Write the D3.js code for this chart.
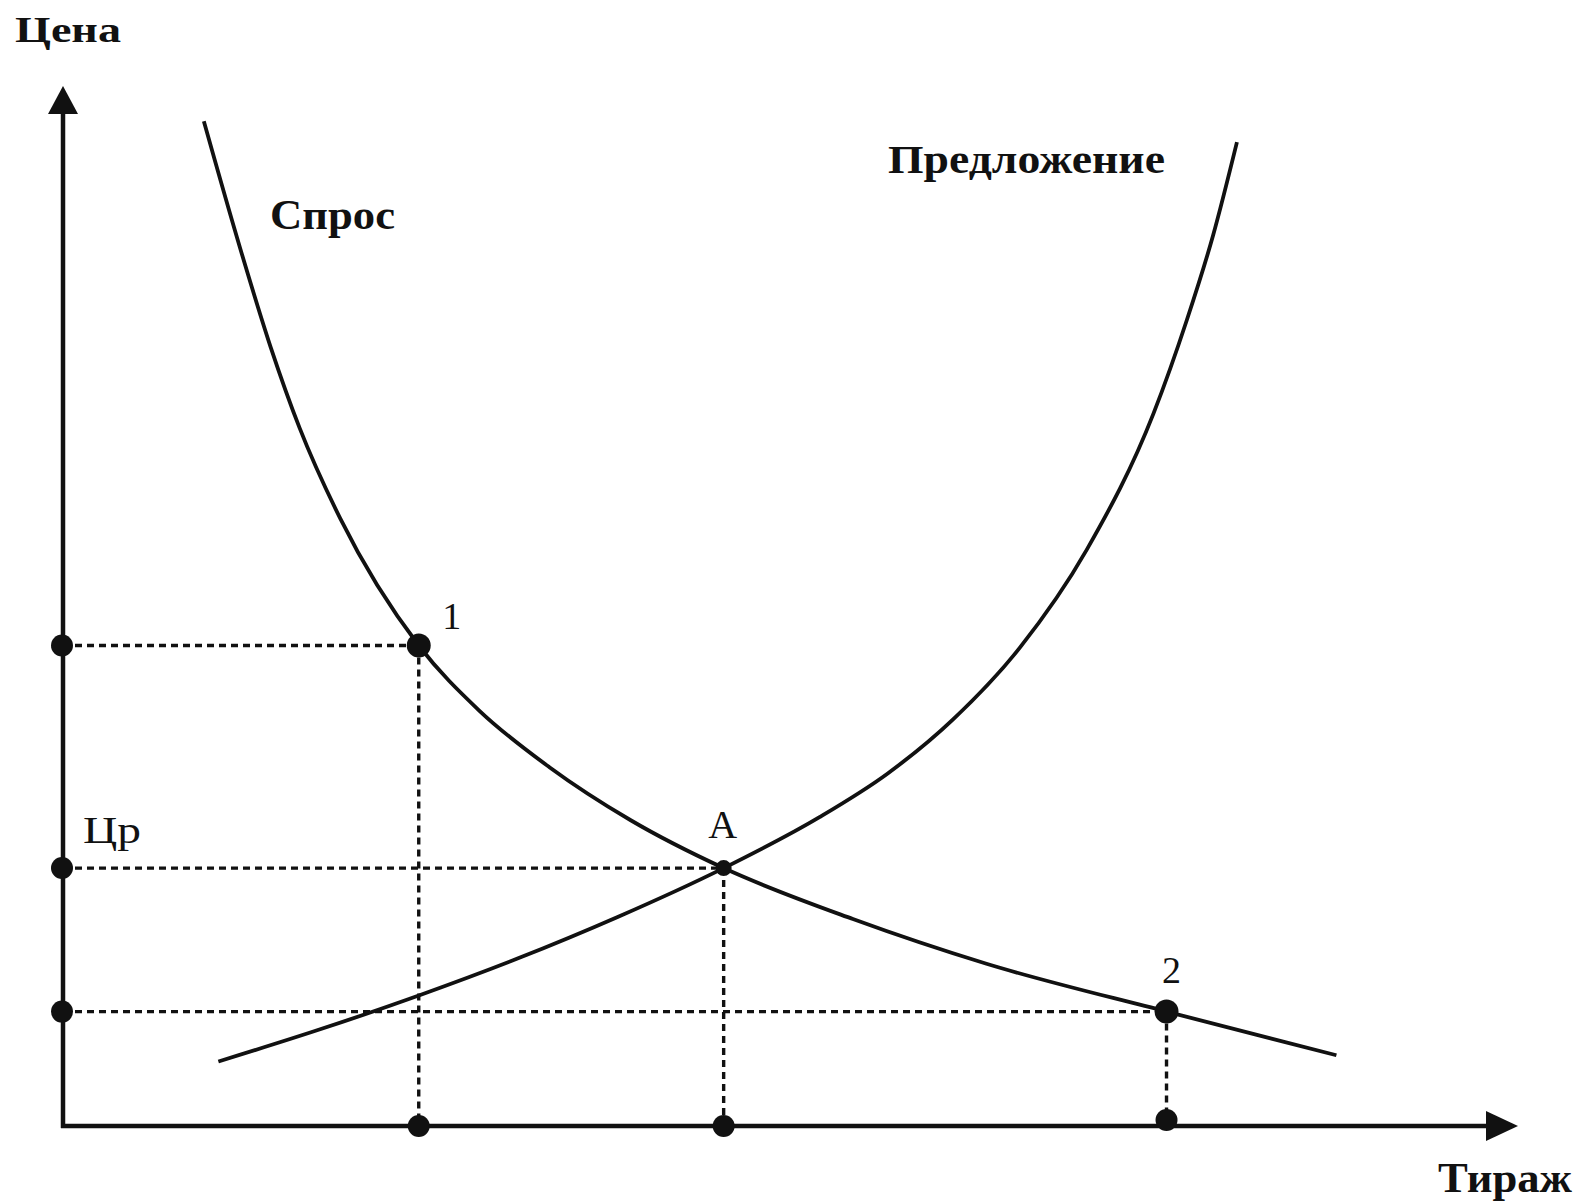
<!DOCTYPE html>
<meta charset="utf-8">
<style>
    body { margin: 0; background: white; }
    svg { display: block; }
    .lbl { font-family: "Liberation Serif", "DejaVu Serif", serif; fill: #111; }
    .bold { font-weight: bold; }
    .curve { fill: none; stroke: #111; stroke-width: 3.8; }
    .guide { fill: none; stroke: #111; stroke-width: 3.4; stroke-dasharray: 7,5; }
    .axis { stroke: #111; stroke-width: 4.5; }
</style>
<body>
<svg width="1584" height="1202"></svg>
<script src="https://cdn.jsdelivr.net/npm/d3@7/dist/d3.min.js"></script>
<script>
    // demand curve ("Спрос"): тираж / цена
    var demandQ = [9.7, 12.2, 14.3, 16.3, 19.1, 24.5, 28.7, 33.5, 39.1, 45.5, 54.4, 63.6, 76.0, 87.7];
    var demandP = [96.6, 84.4, 74.9, 67.1, 58.4, 46.2, 39.9, 34.5, 29.4, 24.8, 19.9, 15.6, 11.0, 6.8];
    // supply curve ("Предложение")
    var supplyQ = [10.7, 17.5, 24.6, 31.3, 38.2, 45.5, 52.1, 56.8, 61.3, 65.9, 70.5, 75.1, 77.4, 79.2, 80.85];
    var supplyP = [6.2, 9.2, 12.6, 16.1, 20.1, 24.8, 29.7, 33.9, 39.1, 46.0, 55.4, 68.5, 77.5, 85.6, 94.6];
    // marked points 1, A, 2
    var pointNames = ["1", "А", "2"];
    var pointQ = [24.5, 45.5, 76.0];
    var pointP = [46.2, 24.8, 11.0];
    var yAxisTitle = "Цена", xAxisTitle = "Тираж";
    var demandName = "Спрос", supplyName = "Предложение", eqPriceName = "Цр";

    var svg = d3.select("svg");
    var x = d3.scaleLinear().domain([0, 100]).range([63, 1515]);
    var y = d3.scaleLinear().domain([0, 100]).range([1126, 86]);

    var line = d3.line()
        .x(function(d) { return x(d[0]); })
        .y(function(d) { return y(d[1]); })
        .curve(d3.curveMonotoneX);

    var demand = demandQ.map(function(q, i) { return [q, demandP[i]]; });
    var supply = supplyQ.map(function(q, i) { return [q, supplyP[i]]; });
    var points = pointQ.map(function(q, i) { return {name: pointNames[i], q: q, p: pointP[i]}; });

    // dashed guides
    var guides = svg.append("g");
    points.forEach(function(d) {
        guides.append("line").attr("class", "guide")
            .attr("x1", x(0)).attr("x2", x(d.q))
            .attr("y1", y(d.p)).attr("y2", y(d.p));
        guides.append("line").attr("class", "guide")
            .attr("x1", x(d.q)).attr("x2", x(d.q))
            .attr("y1", y(d.p)).attr("y2", y(0));
    });

    // axes with arrows
    svg.append("line").attr("class", "axis")
        .attr("x1", x(0)).attr("y1", y(0) + 2)
        .attr("x2", x(0)).attr("y2", y(100) + 20);
    svg.append("line").attr("class", "axis")
        .attr("x1", x(0) - 2).attr("y1", y(0))
        .attr("x2", x(100) - 22).attr("y2", y(0));
    svg.append("path")
        .attr("d", "M" + x(0) + "," + y(100) + "l-15,28l30,0z")
        .attr("fill", "#111");
    svg.append("path")
        .attr("d", "M" + (x(100) + 3) + "," + y(0) + "l-32,-15l0,30z")
        .attr("fill", "#111");

    svg.append("path").datum(demand).attr("class", "curve").attr("d", line);
    svg.append("path").datum(supply).attr("class", "curve").attr("d", line);

    // dots on the curves, on the y axis and on the x axis
    svg.selectAll(".pt").data(points).enter().append("circle")
        .attr("cx", function(d) { return x(d.q); })
        .attr("cy", function(d) { return y(d.p); })
        .attr("r", function(d, i) { return i == 1 ? 8 : 12; })
        .attr("fill", "#111");
    svg.selectAll(".py").data(points).enter().append("circle")
        .attr("cx", x(0) - 1)
        .attr("cy", function(d) { return y(d.p); })
        .attr("r", 11).attr("fill", "#111");
    svg.selectAll(".px").data(points).enter().append("circle")
        .attr("cx", function(d) { return x(d.q); })
        .attr("cy", function(d, i) { return y(0) - (i == 2 ? 6 : 0); })
        .attr("r", 11).attr("fill", "#111");

    // point labels
    var off = [[33, -17, 38], [-1, -30, 40], [5, -29, 38]];
    svg.selectAll(".plbl").data(points).enter().append("text")
        .attr("class", "lbl")
        .attr("x", function(d, i) { return x(d.q) + off[i][0]; })
        .attr("y", function(d, i) { return y(d.p) + off[i][1]; })
        .attr("font-size", function(d, i) { return off[i][2]; })
        .attr("text-anchor", "middle")
        .text(function(d) { return d.name; });

    svg.append("text").attr("class", "lbl")
        .attr("x", x(0) + 20).attr("y", y(pointP[1]) - 25)
        .attr("font-size", 38).attr("textLength", 58).attr("lengthAdjust", "spacingAndGlyphs")
        .text(eqPriceName);

    // titles
    svg.append("text").attr("class", "lbl bold")
        .attr("x", 15).attr("y", 42)
        .attr("font-size", 36).attr("textLength", 106).attr("lengthAdjust", "spacingAndGlyphs")
        .text(yAxisTitle);
    svg.append("text").attr("class", "lbl bold")
        .attr("x", 1438).attr("y", 1192)
        .attr("font-size", 42).attr("textLength", 134).attr("lengthAdjust", "spacingAndGlyphs")
        .text(xAxisTitle);
    svg.append("text").attr("class", "lbl bold")
        .attr("x", 270).attr("y", 229)
        .attr("font-size", 42).attr("textLength", 125).attr("lengthAdjust", "spacingAndGlyphs")
        .text(demandName);
    svg.append("text").attr("class", "lbl bold")
        .attr("x", 888).attr("y", 173)
        .attr("font-size", 40).attr("textLength", 277).attr("lengthAdjust", "spacingAndGlyphs")
        .text(supplyName);
</script>
</body>
